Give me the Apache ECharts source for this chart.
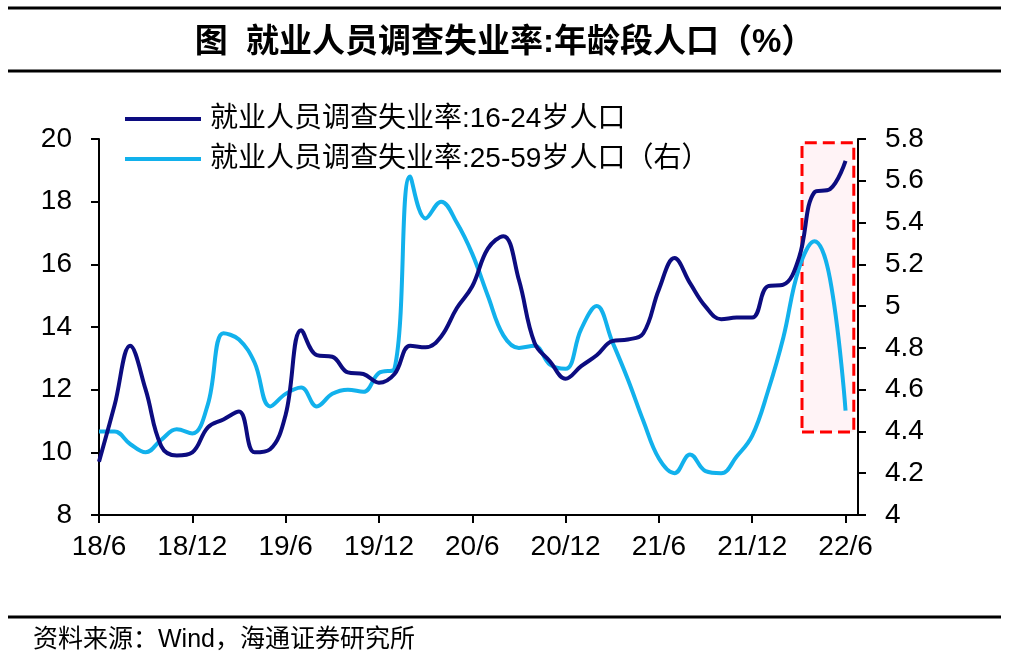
<!DOCTYPE html>
<html>
<head>
<meta charset="utf-8">
<script src="https://cdn.jsdelivr.net/npm/echarts@6/dist/echarts.min.js"></script>
<style>
  html, body { margin: 0; padding: 0; background: #fff; }
  #main { width: 1009px; height: 668px; }
</style>
</head>
<body>
<div id="main"></div>
<script>
// 月份：2018/6 - 2022/6
var months = [
  '2018-06','2018-07','2018-08','2018-09','2018-10','2018-11','2018-12',
  '2019-01','2019-02','2019-03','2019-04','2019-05','2019-06','2019-07','2019-08','2019-09','2019-10','2019-11','2019-12',
  '2020-01','2020-02','2020-03','2020-04','2020-05','2020-06','2020-07','2020-08','2020-09','2020-10','2020-11','2020-12',
  '2021-01','2021-02','2021-03','2021-04','2021-05','2021-06','2021-07','2021-08','2021-09','2021-10','2021-11','2021-12',
  '2022-01','2022-02','2022-03','2022-04','2022-05','2022-06'
];
var tickLabels = ['18/6', '18/12', '19/6', '19/12', '20/6', '20/12', '21/6', '21/12', '22/6'];

// 16-24岁人口（左轴）
var youth = [9.7, 11.5, 13.4, 12.0, 10.2, 9.9, 10.0, 10.8, 11.05, 11.3, 10.0, 10.1, 11.2,
  13.9, 13.1, 13.05, 12.55, 12.5, 12.22, 12.5, 13.4, 13.35, 13.7, 14.6, 15.3, 16.5, 16.9,
  15.5, 13.5, 12.9, 12.35, 12.75, 13.1, 13.55, 13.6, 13.8, 15.2, 16.2, 15.4, 14.65, 14.25,
  14.3, 14.3, 15.3, 15.35, 16.2, 18.3, 18.4, 19.3];
// 25-59岁人口（右轴）
var adult = [4.40, 4.40, 4.34, 4.30, 4.36, 4.41, 4.39, 4.53, 4.87, 4.84, 4.73, 4.52, 4.58,
  4.61, 4.52, 4.58, 4.60, 4.59, 4.68, 4.70, 5.62, 5.42, 5.50, 5.40, 5.25, 5.05, 4.86,
  4.80, 4.81, 4.72, 4.70, 4.89, 5.00, 4.83, 4.65, 4.45, 4.27, 4.20, 4.29, 4.21, 4.20,
  4.28, 4.38, 4.59, 4.85, 5.18, 5.31, 5.13, 4.50];

var FONT = '"Liberation Sans", Arial, "Noto Sans CJK SC", sans-serif';
var name1 = '就业人员调查失业率:16-24岁人口';
var name2 = '就业人员调查失业率:25-59岁人口（右）';

function toPairs(arr) {
  var out = [];
  for (var i = 0; i < arr.length; i++) {
    out.push([i, arr[i]]);
  }
  return out;
}
var tickValues = [];
for (var k = 0; k < tickLabels.length; k++) tickValues.push(k * 6);

var chart = echarts.init(document.getElementById('main'));
var option = {
  backgroundColor: '#fff',
  animation: false,
  title: {
    text: '图  就业人员调查失业率:年龄段人口（%）',
    left: 'center',
    top: 21,
    textStyle: { fontSize: 33, fontWeight: 'bold', color: '#000', fontFamily: FONT }
  },
  graphic: [
    { type: 'line', shape: { x1: 8, y1: 8, x2: 1001, y2: 8 }, style: { stroke: '#000', lineWidth: 3 } },
    { type: 'line', shape: { x1: 8, y1: 71, x2: 1001, y2: 71 }, style: { stroke: '#000', lineWidth: 3 } },
    { type: 'line', shape: { x1: 8, y1: 617, x2: 1001, y2: 617 }, style: { stroke: '#000', lineWidth: 3 } },
    {
      type: 'text', left: 33, top: 628,
      style: { text: '资料来源：Wind，海通证券研究所', fill: '#000', font: '25px ' + FONT }
    }
  ],
  legend: {
    orient: 'vertical',
    left: 120,
    top: 100,
    itemWidth: 76,
    itemHeight: 4,
    itemGap: 12,
    icon: 'rect',
    data: [name1, name2],
    textStyle: { fontSize: 28, color: '#000', fontFamily: FONT, padding: [0, 0, 0, 4] }
  },
  grid: { left: 99, right: 151, top: 139, bottom: 153, containLabel: false },
  xAxis: {
    type: 'value',
    min: 0,
    max: 48.8,
    splitLine: { show: false },
    axisLine: { lineStyle: { color: '#000', width: 2 } },
    axisTick: { show: true, length: 8, lineStyle: { color: '#000', width: 2 }, customValues: tickValues },
    axisLabel: {
      customValues: tickValues,
      fontSize: 28, color: '#000', fontFamily: FONT, margin: 18,
      formatter: function (v) { return tickLabels[Math.round(v / 6)] || ''; }
    }
  },
  yAxis: [
    {
      type: 'value', min: 8, max: 20, interval: 2,
      splitLine: { show: false },
      axisLine: { show: true, lineStyle: { color: '#000', width: 2 } },
      axisTick: { show: true, length: 8, lineStyle: { color: '#000', width: 2 } },
      axisLabel: { fontSize: 28, color: '#000', fontFamily: FONT, margin: 27 }
    },
    {
      type: 'value', min: 4, max: 5.8, interval: 0.2,
      splitLine: { show: false },
      axisLine: { show: true, lineStyle: { color: '#000', width: 2 } },
      axisTick: { show: true, length: 8, lineStyle: { color: '#000', width: 2 } },
      axisLabel: { fontSize: 28, color: '#000', fontFamily: FONT, margin: 27 }
    }
  ],
  series: [
    {
      name: name1,
      type: 'line',
      yAxisIndex: 0,
      data: toPairs(youth),
      smooth: 0.4,
      showSymbol: false,
      z: 3,
      color: '#0c0c80',
      lineStyle: { width: 4, color: '#0c0c80' },
      markArea: {
        silent: true,
        itemStyle: {
          color: 'rgba(255, 228, 235, 0.45)',
          borderColor: '#ff0000',
          borderWidth: 3,
          borderType: [12, 6]
        },
        data: [[{ xAxis: 45.2, yAxis: 10.65 }, { xAxis: 48.53, yAxis: 19.88 }]]
      }
    },
    {
      name: name2,
      type: 'line',
      yAxisIndex: 1,
      data: toPairs(adult),
      smooth: 0.4,
      showSymbol: false,
      z: 2,
      color: '#12b1ec',
      lineStyle: { width: 4, color: '#12b1ec' }
    }
  ]
};
chart.setOption(option);
</script>
</body>
</html>
